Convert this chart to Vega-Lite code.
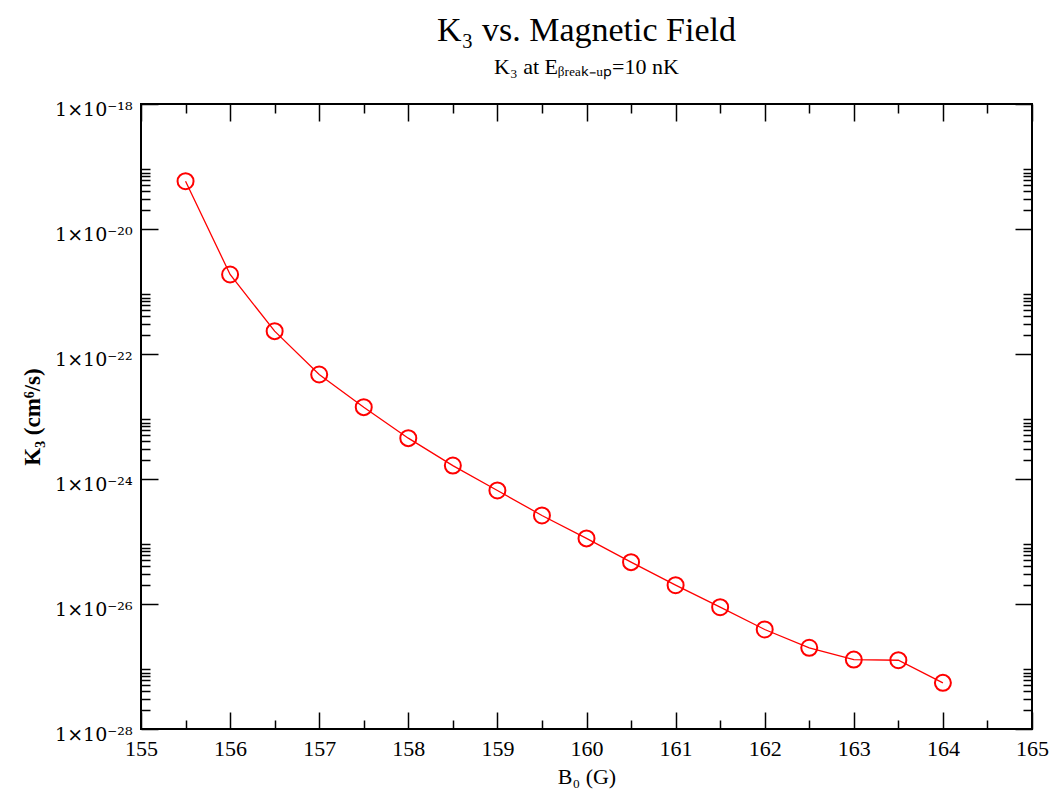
{
  "$schema": "https://vega.github.io/schema/vega-lite/v6.json",
  "autosize": "none",
  "padding": {"left": 141, "top": 104, "right": 22, "bottom": 64},
  "width": 891,
  "height": 625,
  "background": "white",
  "config": {
    "view": {"stroke": "#000", "strokeWidth": 2},
    "axis": {"grid": false, "domain": false, "tickColor": "#000", "tickWidth": 1.5, "labelColor": "#000", "titleColor": "#000", "labelFont": "Liberation Serif", "titleFont": "Liberation Serif"},
    "title": {"font": "Liberation Serif", "fontSize": 34, "fontWeight": "normal", "color": "#000", "subtitleFont": "Liberation Serif", "subtitleFontSize": 22, "subtitleColor": "#000", "subtitlePadding": 9, "anchor": "middle", "offset": 22}
  },
  "title": {"text": "K₃ vs. Magnetic Field", "subtitle": "K₃ at Eᵦᵣₑₐₖ₋ᵤₚ=10 nK"},
  "data": {"values": [
    {"B": 155.5, "K3": 5.82e-20},
    {"B": 156.0, "K3": 1.87e-21},
    {"B": 156.5, "K3": 2.32e-22},
    {"B": 157.0, "K3": 4.70e-23},
    {"B": 157.5, "K3": 1.41e-23},
    {"B": 158.0, "K3": 4.50e-24},
    {"B": 158.5, "K3": 1.64e-24},
    {"B": 159.0, "K3": 6.55e-25},
    {"B": 159.5, "K3": 2.61e-25},
    {"B": 160.0, "K3": 1.12e-25},
    {"B": 160.5, "K3": 4.67e-26},
    {"B": 161.0, "K3": 2.00e-26},
    {"B": 161.5, "K3": 8.89e-27},
    {"B": 162.0, "K3": 3.91e-27},
    {"B": 162.5, "K3": 1.99e-27},
    {"B": 163.0, "K3": 1.29e-27},
    {"B": 163.5, "K3": 1.26e-27},
    {"B": 164.0, "K3": 5.48e-28}
  ]},
  "resolve": {"scale": {"x": "shared", "y": "shared"}, "axis": {"x": "independent", "y": "independent"}},
  "layer": [
    {
      "mark": {"type": "line", "color": "#ff0000", "strokeWidth": 1.3},
      "encoding": {
        "x": {"field": "B", "type": "quantitative",
          "scale": {"domain": [155, 165], "nice": false, "zero": false},
          "axis": {"orient": "bottom", "values": [155,156,157,158,159,160,161,162,163,164,165], "tickSize": -17, "labelPadding": 26, "labelFontSize": 22, "labelFlush": false, "labelOverlap": false,
            "title": "B₀ (G)", "titleFontSize": 22, "titleFontWeight": "normal", "titleBaseline": "alphabetic", "titleAlign": "center", "titleX": 445.5, "titleY": 54}},
        "y": {"field": "K3", "type": "quantitative",
          "scale": {"type": "log", "domain": [1e-28, 1e-18], "nice": false},
          "axis": {"orient": "left", "values": [1e-28, 1e-26, 1e-24, 1e-22, 1e-20, 1e-18], "tickSize": -17, "labelPadding": 26, "labelFont": "DejaVu Serif", "labelFontSize": 19, "labelBaseline": "middle", "labelOffset": 5, "labelFlush": false, "labelOverlap": false,
            "labelExpr": "'1×10' + (round(log(datum.value)/LN10) == -18 ? '⁻¹⁸' : round(log(datum.value)/LN10) == -20 ? '⁻²⁰' : round(log(datum.value)/LN10) == -22 ? '⁻²²' : round(log(datum.value)/LN10) == -24 ? '⁻²⁴' : round(log(datum.value)/LN10) == -26 ? '⁻²⁶' : '⁻²⁸')",
            "title": "K₃ (cm⁶/s)", "titleFontSize": 23, "titleFontWeight": "bold", "titleAngle": 270, "titleBaseline": "alphabetic", "titleAlign": "center", "titleX": -102, "titleY": 312.5}}
      }
    },
    {
      "mark": {"type": "point", "shape": "circle", "filled": false, "color": "#ff0000", "strokeWidth": 2, "size": 256, "opacity": 1},
      "encoding": {
        "x": {"field": "B", "type": "quantitative",
          "axis": {"orient": "bottom", "values": [155.5,156.5,157.5,158.5,159.5,160.5,161.5,162.5,163.5,164.5], "tickSize": -9, "labels": false, "title": null}},
        "y": {"field": "K3", "type": "quantitative",
          "axis": {"orient": "left", "values": [2e-28,3e-28,4e-28,5e-28,6e-28,7e-28,8e-28,9e-28,2e-26,3e-26,4e-26,5e-26,6e-26,7e-26,8e-26,9e-26,2e-24,3e-24,4e-24,5e-24,6e-24,7e-24,8e-24,9e-24,2e-22,3e-22,4e-22,5e-22,6e-22,7e-22,8e-22,9e-22,2e-20,3e-20,4e-20,5e-20,6e-20,7e-20,8e-20,9e-20], "tickSize": -9, "labels": false, "title": null}}
      }
    },
    {
      "mark": {"type": "line", "opacity": 0},
      "encoding": {
        "x": {"field": "B", "type": "quantitative",
          "axis": {"orient": "top", "values": [155,156,157,158,159,160,161,162,163,164,165], "tickSize": -17, "labels": false, "title": null}},
        "y": {"field": "K3", "type": "quantitative",
          "axis": {"orient": "right", "values": [1e-28, 1e-26, 1e-24, 1e-22, 1e-20, 1e-18], "tickSize": -17, "labels": false, "title": null}}
      }
    },
    {
      "mark": {"type": "line", "opacity": 0},
      "encoding": {
        "x": {"field": "B", "type": "quantitative",
          "axis": {"orient": "top", "values": [155.5,156.5,157.5,158.5,159.5,160.5,161.5,162.5,163.5,164.5], "tickSize": -9, "labels": false, "title": null}},
        "y": {"field": "K3", "type": "quantitative",
          "axis": {"orient": "right", "values": [2e-28,3e-28,4e-28,5e-28,6e-28,7e-28,8e-28,9e-28,2e-26,3e-26,4e-26,5e-26,6e-26,7e-26,8e-26,9e-26,2e-24,3e-24,4e-24,5e-24,6e-24,7e-24,8e-24,9e-24,2e-22,3e-22,4e-22,5e-22,6e-22,7e-22,8e-22,9e-22,2e-20,3e-20,4e-20,5e-20,6e-20,7e-20,8e-20,9e-20], "tickSize": -9, "labels": false, "title": null}}
      }
    }
  ]
}
